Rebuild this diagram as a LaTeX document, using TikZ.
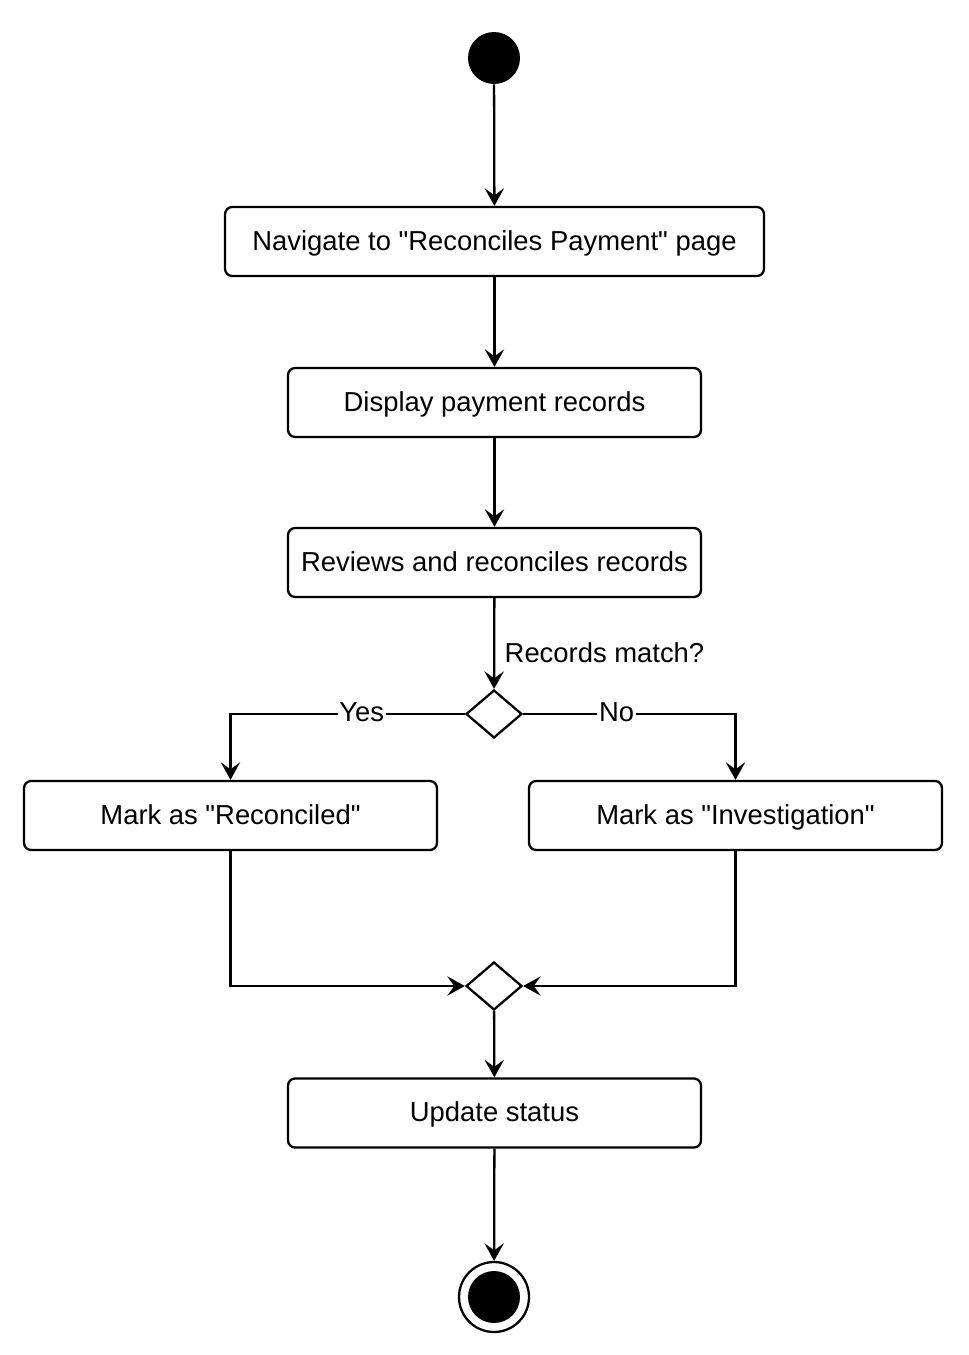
\documentclass[tikz,border=0pt]{standalone}
\usepackage{fontspec}
\setmainfont{Liberation Sans}[Ligatures=TeXOff]
\usepackage{tikz}
\usetikzlibrary{arrows.meta,shapes.geometric}
\tikzset{
	txt/.style={font=\fontsize{15.6}{18}\selectfont,text height=0.95em,text depth=0.12em},
	act/.style={draw,rounded corners=4pt,line width=1.3pt,minimum height=1.38cm,
		minimum width=8.26cm,inner sep=0pt,txt,text height=1.1em,text depth=0.1em},
	decide/.style={draw,diamond,aspect=1.17,line width=1.3pt,minimum width=1.12cm,
		minimum height=0.96cm,inner sep=0pt},
	arr/.style={line width=1.3pt,-{Stealth[length=10pt,width=11pt,inset=4pt]}},
	lbl/.style={fill=white,inner sep=1pt,txt}
}

\begin{document}
\begin{tikzpicture}[x=0.02cm,y=-0.02cm]
	\useasboundingbox (0,0) rectangle (968,1355);

	% start and end
	\node[circle,fill=black,minimum size=1.04cm,inner sep=0pt] (start) at (494,58) {};
	\node[circle,draw,line width=1.3pt,minimum size=1.4cm,inner sep=0pt] (end) at (494,1297) {};
	\node[circle,fill=black,minimum size=1.04cm,inner sep=0pt] (endin) at (494,1297) {};

	% activities
	\node[act,minimum width=10.78cm] (nav) at (494.5,241.5) {Navigate to "Reconciles Payment" page};
	\node[act] (disp) at (494.5,402.5) {Display payment records};
	\node[act] (review) at (494.5,562.5) {Reviews and reconciles records};
	\node[act] (recon) at (230.5,815.5) {Mark as "Reconciled"};
	\node[act] (invest) at (735.5,815.5) {Mark as "Investigation"};
	\node[act] (update) at (494.5,1113) {Update status};

	% decision and merge
	\node[decide] (dec) at (494,714) {};
	\node[decide] (mrg) at (494,986) {};

	% flow
	\draw[arr] (start) -- (nav);
	\draw[arr] (nav) -- (disp);
	\draw[arr] (disp) -- (review);
	\draw[arr] (review) -- node[pos=0.63,anchor=west,xshift=2pt,txt] {Records match?} (dec);
	\draw[arr] (dec.west) -| node[lbl,pos=0.22] {Yes} (recon.north);
	\draw[arr] (dec.east) -| node[lbl,pos=0.22] {No} (invest.north);
	\draw[arr] (recon.south) |- (mrg.west);
	\draw[arr] (invest.south) |- (mrg.east);
	\draw[arr] (mrg) -- (update);
	\draw[arr] (update) -- (end);
\end{tikzpicture}
\end{document}
